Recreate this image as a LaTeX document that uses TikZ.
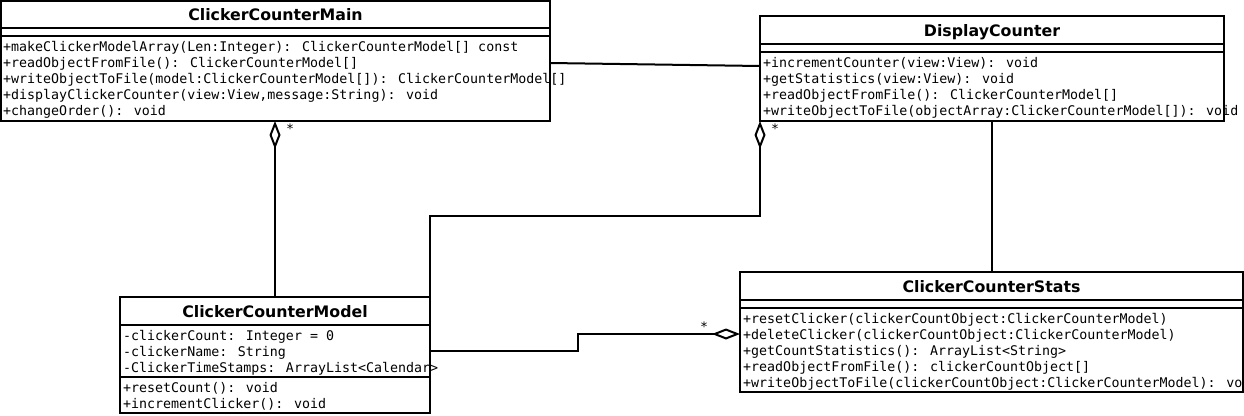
\documentclass[tikz,border=0pt]{standalone}
\usepackage{fontspec}
\setmainfont{DejaVu Sans}
\newfontfamily\umlmono{DejaVu Sans Mono}
\usetikzlibrary{arrows.meta}
\tikzset{
  x=1pt, y=-1pt,
  umlbox/.style={draw, line width=2pt, anchor=north west, inner sep=0pt, outer sep=0pt, fill=white},
  umlsep/.style={line width=2pt},
  umltitle/.style={font=\bfseries\fontsize{15.8}{18}\selectfont, inner sep=0pt, anchor=base},
  umlmembers/.style={font=\umlmono\fontsize{13.3}{16}\selectfont, align=left, anchor=north west, inner sep=0pt},
  conn/.style={line width=2pt},
  agg/.style={conn, {Diamond[open, length=28pt, width=11pt, line width=2pt]}-},
  mult/.style={font=\fontsize{13}{15}\selectfont, inner sep=0pt}
}
\begin{document}
\begin{tikzpicture}
\useasboundingbox (0,0) rectangle (1244,415);
% ClickerCounterMain
\node[umlbox, minimum width=549pt, minimum height=120pt] (main) at (1,1) {};
\draw[umlsep] (1,28) -- (550,28) (1,36) -- (550,36);
\node[umltitle] (maint) at (275.5,20) {ClickerCounterMain};
\node[umlmembers] (mainm) at (3,41) {+makeClickerModelArray(Len:Integer): ClickerCounterModel[] const\\+readObjectFromFile(): ClickerCounterModel[]\\+writeObjectToFile(model:ClickerCounterModel[]): ClickerCounterModel[]\\+displayClickerCounter(view:View,message:String): void\\+changeOrder(): void};
% DisplayCounter
\node[umlbox, minimum width=464pt, minimum height=105pt] (disp) at (760,16) {};
\draw[umlsep] (760,44) -- (1224,44) (760,52) -- (1224,52);
\node[umltitle] (dispt) at (992,36) {DisplayCounter};
\node[umlmembers] (dispm) at (763,57) {+incrementCounter(view:View): void\\+getStatistics(view:View): void\\+readObjectFromFile(): ClickerCounterModel[]\\+writeObjectToFile(objectArray:ClickerCounterModel[]): void};
% ClickerCounterStats
\node[umlbox, minimum width=503pt, minimum height=120pt] (stats) at (740,272) {};
\draw[umlsep] (740,300) -- (1243,300) (740,308) -- (1243,308);
\node[umltitle] (statst) at (991.5,292) {ClickerCounterStats};
\node[umlmembers] (statsm) at (743,313) {+resetClicker(clickerCountObject:ClickerCounterModel)\\+deleteClicker(clickerCountObject:ClickerCounterModel)\\+getCountStatistics(): ArrayList<String>\\+readObjectFromFile(): clickerCountObject[]\\+writeObjectToFile(clickerCountObject:ClickerCounterModel): vo};
% ClickerCounterModel
\node[umlbox, minimum width=310pt, minimum height=116pt] (model) at (120,297) {};
\draw[umlsep] (120,325) -- (430,325) (120,377) -- (430,377);
\node[umltitle] (modelt) at (275,317) {ClickerCounterModel};
\node[umlmembers] (modela) at (123,330.5) {-clickerCount: Integer = 0\\-clickerName: String\\-ClickerTimeStamps: ArrayList<Calendar>};
\node[umlmembers] (modelm) at (123,382) {+resetCount(): void\\+incrementClicker(): void};
% connectors
\draw[conn] (main.east |- 0,63) -- (disp.west |- 0,66);
\draw[agg] (main.south -| 275,0) -- (275,216) -- (model.north -| 275,0);
\draw[agg] (disp.south west) -- (760,216) -- (430,216) -- (model.north east);
\draw[conn] (disp.south -| 992,0) -- (stats.north -| 992,0);
\draw[agg] (stats.west |- 0,334) -- (578,334) -- (578,351) -- (model.east |- 0,351);
% multiplicities
\node[mult] (m1) at (290,129) {*};
\node[mult] (m2) at (775,129) {*};
\node[mult] (m3) at (704,327) {*};
\end{tikzpicture}
\end{document}
